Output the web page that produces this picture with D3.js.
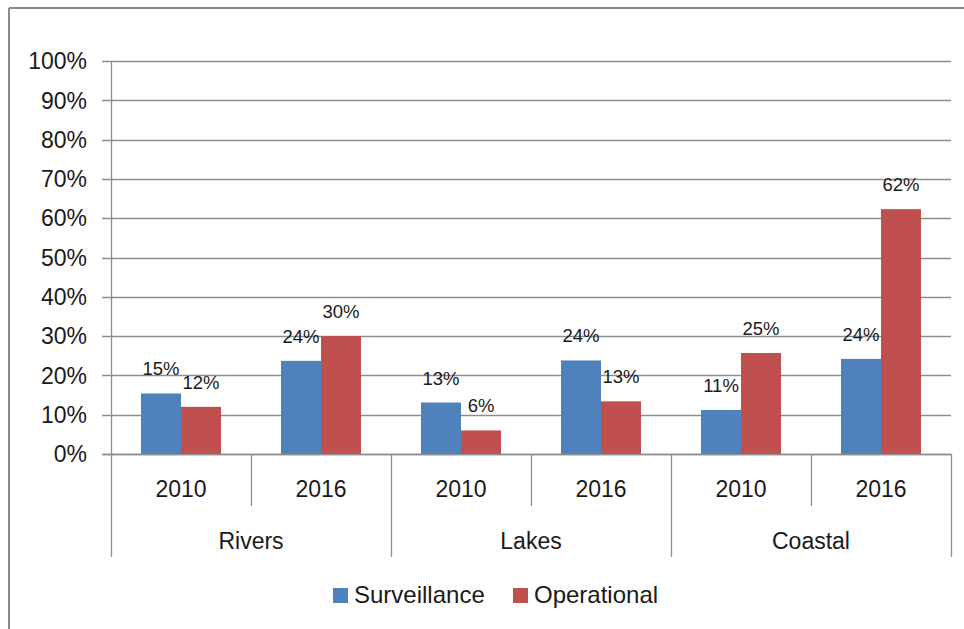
<!DOCTYPE html>
<html>
<head>
<meta charset="utf-8">
<script src="https://cdn.jsdelivr.net/npm/d3@7"></script>
<style>
  html, body { margin: 0; padding: 0; background: #fff; }
  svg { display: block; }
  text { font-family: "Liberation Sans", Arial, sans-serif; fill: #1a1a1a; }
</style>
</head>
<body>
<svg id="chart" width="964" height="629"></svg>
<script>
// ---- data ----
const groups = ["Rivers", "Lakes", "Coastal"];
const years = ["2010", "2016"];
const seriesNames = ["Surveillance", "Operational"];
const surveillance = [0.154, 0.237, 0.131, 0.238, 0.112, 0.242];
const operational  = [0.120, 0.300, 0.060, 0.134, 0.257, 0.623];
const labelsSurveillance = ["15%", "24%", "13%", "24%", "11%", "24%"];
const labelsOperational  = ["12%", "30%", "6%", "13%", "25%", "62%"];
const yTicks = [0, 0.1, 0.2, 0.3, 0.4, 0.5, 0.6, 0.7, 0.8, 0.9, 1.0];
const colors = ["#4F81BD", "#C0504D"];

(function () {
// ---- layout ----
const svg = d3.select("#chart");
const plotLeft = 111, plotRight = 951, plotTop = 61, plotBottom = 454;
const gridColor = "#8e8e8e";

// outer frame (cut off at right/bottom like the reference)
svg.append("line").attr("x1", 9).attr("x2", 964).attr("y1", 8).attr("y2", 8)
  .attr("stroke", "#8a8a8a").attr("stroke-width", 2);
svg.append("line").attr("x1", 9).attr("x2", 9).attr("y1", 8).attr("y2", 629)
  .attr("stroke", "#8a8a8a").attr("stroke-width", 2);

const cells = [];
groups.forEach((g, gi) => years.forEach((yr, yi) => cells.push({ g, gi, yr, yi, idx: gi * 2 + yi })));

const x0 = d3.scaleBand().domain(cells.map(c => c.idx)).range([plotLeft, plotRight]).paddingInner(0).paddingOuter(0);
const x1 = d3.scaleBand().domain(seriesNames).range([0, x0.bandwidth()]).paddingInner(0).paddingOuter(0.75);
const y = d3.scaleLinear().domain([0, 1]).range([plotBottom, plotTop]);

// gridlines + ticks
svg.append("g").selectAll("line").data(yTicks).join("line")
  .attr("x1", plotLeft - 9).attr("x2", plotRight)
  .attr("y1", d => Math.round(y(d)) + 0.5).attr("y2", d => Math.round(y(d)) + 0.5)
  .attr("stroke", gridColor).attr("stroke-width", 1.3);

svg.append("g").selectAll("text").data(yTicks).join("text")
  .attr("x", 87).attr("y", d => y(d)).attr("dy", "0.36em")
  .attr("text-anchor", "end").attr("font-size", 23)
  .text(d => d3.format(".0%")(d));

// y axis line
svg.append("line").attr("x1", plotLeft + 0.5).attr("x2", plotLeft + 0.5).attr("y1", plotTop).attr("y2", plotBottom)
  .attr("stroke", gridColor).attr("stroke-width", 1.3);

// bars
const vals = [surveillance, operational];
const labs = [labelsSurveillance, labelsOperational];
seriesNames.forEach((s, si) => {
  svg.append("g").selectAll("rect").data(cells).join("rect")
    .attr("x", c => x0(c.idx) + x1(s))
    .attr("y", c => y(vals[si][c.idx]))
    .attr("width", x1.bandwidth())
    .attr("height", c => y(0) - y(vals[si][c.idx]))
    .attr("fill", colors[si]);
  svg.append("g").selectAll("text").data(cells).join("text")
    .attr("x", c => x0(c.idx) + x1(s) + x1.bandwidth() / 2)
    .attr("y", c => y(vals[si][c.idx]) - 18)
    .attr("text-anchor", "middle").attr("font-size", 18.5)
    .text(c => labs[si][c.idx]);
});

// baseline redraw
svg.append("line").attr("x1", plotLeft - 9).attr("x2", plotRight).attr("y1", plotBottom + 0.5).attr("y2", plotBottom + 0.5)
  .attr("stroke", gridColor).attr("stroke-width", 1.3);

// category axis separators
const catAxis = svg.append("g");
cells.forEach(c => {
  if (c.yi === 1) {
    const xs = Math.round(x0(c.idx)) + 0.5;
    catAxis.append("line").attr("x1", xs).attr("x2", xs).attr("y1", plotBottom).attr("y2", 506)
      .attr("stroke", gridColor).attr("stroke-width", 1.3);
  }
});
const groupEdges = groups.map((g, gi) => x0(gi * 2)).concat([plotRight]);
groupEdges.forEach(xv => {
  const xs = Math.round(xv) + 0.5;
  catAxis.append("line").attr("x1", xs).attr("x2", xs).attr("y1", plotBottom).attr("y2", 557)
    .attr("stroke", gridColor).attr("stroke-width", 1.3);
});

// year labels
svg.append("g").selectAll("text").data(cells).join("text")
  .attr("x", c => x0(c.idx) + x0.bandwidth() / 2)
  .attr("y", 497).attr("text-anchor", "middle").attr("font-size", 23)
  .text(c => c.yr);

// group labels
svg.append("g").selectAll("text").data(groups).join("text")
  .attr("x", (g, gi) => x0(gi * 2) + x0.bandwidth())
  .attr("y", 549).attr("text-anchor", "middle").attr("font-size", 23)
  .text(g => g);

// legend
const legendX = [333, 513];
const legend = svg.append("g");
seriesNames.forEach((s, si) => {
  legend.append("rect").attr("x", legendX[si]).attr("y", 588).attr("width", 15).attr("height", 15)
    .attr("fill", colors[si]);
  legend.append("text").attr("x", legendX[si] + 21).attr("y", 603).attr("font-size", 24).text(s);
});
})();
</script>
</body>
</html>
